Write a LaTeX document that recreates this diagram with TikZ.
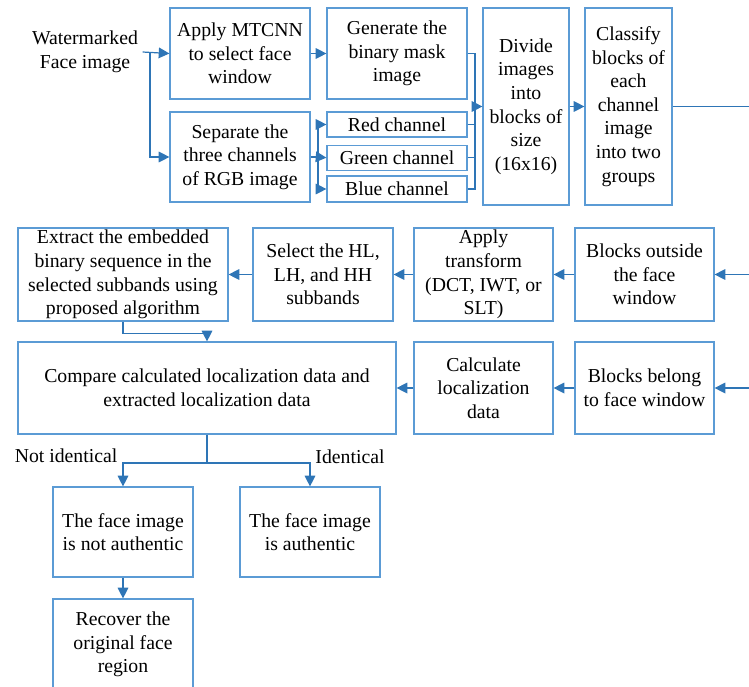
\documentclass[tikz,border=0pt]{standalone}
\usepackage{fontspec}
\setmainfont{Liberation Serif}
\usetikzlibrary{shapes, positioning, arrows.meta}
\definecolor{boxblue}{RGB}{91,155,213}
\definecolor{linkblue}{RGB}{46,117,182}

\begin{document}
\begin{tikzpicture}[x=0.75pt, y=-0.75pt, font=\fontsize{14.8}{17.7}\selectfont]
\tikzstyle{block}=[draw=boxblue, line width=0.9pt, rectangle, align=center, inner sep=0pt]
\tikzstyle{link}=[color=linkblue, line width=0.9pt]
\tikzstyle{flow}=[-{Triangle[length=8pt, width=8pt]}]
\useasboundingbox (0,0) rectangle (749,686);

% top row: input, face window, channels
\node[align=center] (W) at (85,52) {Watermarked\\Face image};
\node[block, minimum width=105pt, minimum height=68.25pt] (A) at (240,53.5) {Apply MTCNN\\to select face\\window};
\node[block, minimum width=105pt, minimum height=68.25pt] (M) at (397,53.5) {Generate the\\binary mask\\image};
\node[block, minimum width=105pt, minimum height=67.5pt] (S) at (240,157) {Separate the\\three channels\\of RGB image};
\node[block, minimum width=105pt, minimum height=18.75pt] (R) at (397,124.5) {Red channel};
\node[block, minimum width=105pt, minimum height=18.75pt] (G)[below=5.25pt of R] {Green channel};
\node[block, minimum width=105pt, minimum height=19.5pt] (B) at (397,189) {Blue channel};
\node[block, minimum width=64.5pt, minimum height=147.75pt] (D) at (526,106.5) {Divide\\images\\into\\blocks of\\size\\(16x16)};
\node[block, minimum width=65.25pt, minimum height=147.75pt] (C) at (628.5,106.5) {Classify\\blocks of\\each\\channel\\image\\into two\\groups};

% middle rows: extraction and comparison
\node[block, minimum width=157.5pt, minimum height=69.75pt] (E) at (123,274.5) {Extract the embedded\\binary sequence in the\\selected subbands using\\proposed algorithm};
\node[block, minimum width=105pt, minimum height=69.75pt] (SB) at (323,274.5) {Select the HL,\\LH, and HH\\subbands};
\node[block, minimum width=104.25pt, minimum height=69.75pt] (T) at (483.5,274.5) {Apply\\transform\\(DCT, IWT, or\\SLT)};
\node[block, minimum width=104.25pt, minimum height=69.75pt] (O) at (644.5,274.5) {Blocks outside\\the face\\window};
\node[block, minimum width=283.5pt, minimum height=69pt] (CP) at (207,388) {Compare calculated localization data and\\extracted localization data};
\node[block, minimum width=104.25pt, minimum height=69pt] (L) at (483.5,388) {Calculate\\localization\\data};
\node[block, minimum width=104.25pt, minimum height=69pt] (I) at (644.5,388) {Blocks belong\\to face window};

% decision
\node[block, minimum width=105pt, minimum height=67.5pt] (NA) at (123,532) {The face image\\is not authentic};
\node[block, minimum width=105pt, minimum height=67.5pt] (AU) at (310,532) {The face image\\is authentic};
\node[block, minimum width=105pt, minimum height=68.25pt] (RC) at (123,644.5) {Recover the\\original face\\region};
\node (no) at (66,456) {Not identical};
\node (yes) at (350,457) {Identical};

\coordinate (j1) at (150,52);
\coordinate (j2) at (318,157);
\coordinate (j3) at (475,106.5);
\coordinate (j4) at (207,463);
\coordinate (e1) at (749,106.5);
\coordinate (e2) at (749,274.5);
\coordinate (e3) at (749,388);

\draw[link, flow] (W.east) -- (A.west);
\draw[link, flow] (j1) |- (S.west);
\draw[link] (S.east) -- (j2);
\draw[link, flow] (j2) |- (R.west);
\draw[link, flow] (j2) -- (G.west);
\draw[link, flow] (j2) |- (B.west);
\draw[link] (M.east) -| (j3);
\draw[link] (R.east) -| (j3);
\draw[link] (G.east) -| (j3);
\draw[link] (B.east) -| (j3);
\draw[link] (C.east) -- (e1);

\path[link, flow]
(A.east) edge (M.west)
(j3) edge (D.west)
(D.east) edge (C.west)
(e2) edge (O.east)
(O.west) edge (T.east)
(T.west) edge (SB.east)
(SB.west) edge (E.east)
(e3) edge (I.east)
(I.west) edge (L.east)
(L.west) edge (CP.east)
(NA.south) edge (RC.north);

\draw[link, flow] (E.south) -- ++(0,12) -| (CP.north);
\draw[link] (CP.south) -- (j4);
\draw[link, flow] (j4) -| (NA.north);
\draw[link, flow] (j4) -| (AU.north);
\end{tikzpicture}
\end{document}
